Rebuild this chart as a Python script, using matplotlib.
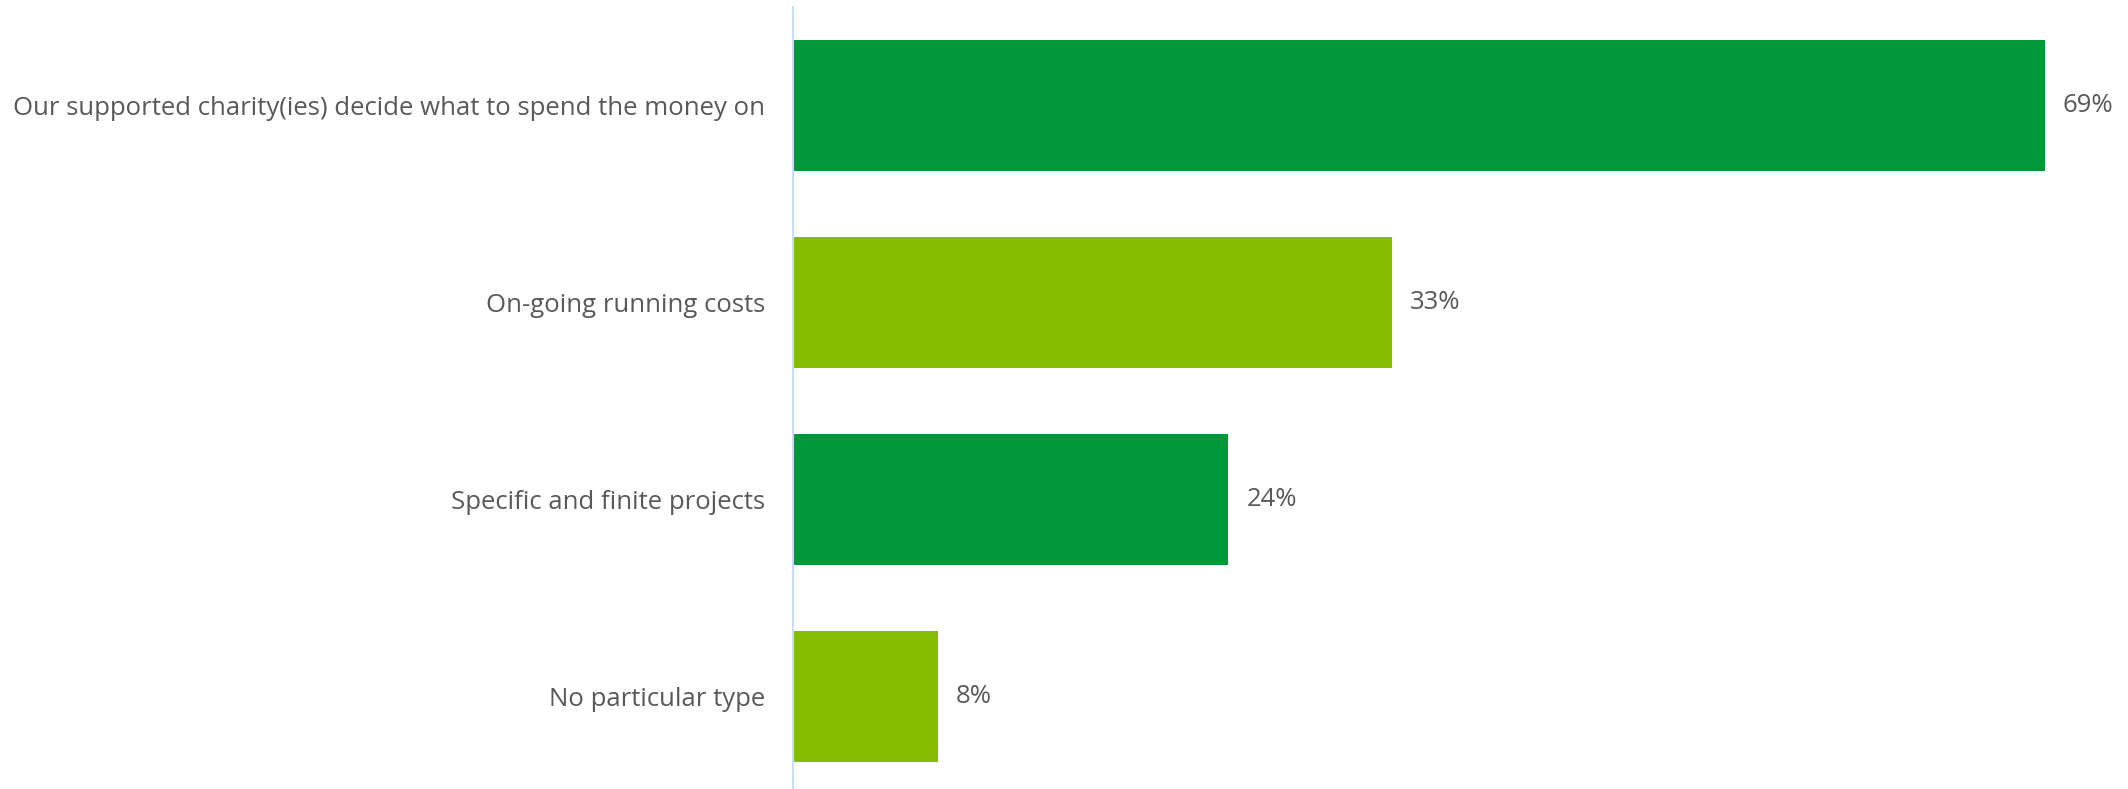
import matplotlib
matplotlib.use('Agg')
import matplotlib.pyplot as plt

categories = ['Our supported charity(ies) decide what to spend the money on',
              'On-going running costs',
              'Specific and finite projects',
              'No particular type']
values = [69, 33, 24, 8]
colors = ['#00963A', '#86BC00', '#00963A', '#86BC00']

TEXT = '#595959'
plt.rcParams['font.family'] = ['Open Sans', 'DejaVu Sans']

fig = plt.figure(figsize=(21.28, 7.89), dpi=100)
ax = fig.add_axes([793 / 2128, 0.0, 1 - 793 / 2128, 1 - 7 / 789])

ypos = range(len(categories))
ax.barh(ypos, values, height=0.665, color=colors)
for y, v in zip(ypos, values):
    ax.text(v + 1.0, y, f'{v}%', va='center', ha='left',
            fontsize=18.5, color=TEXT)

ax.set_xlim(0, 73.6)
ax.set_ylim(3.467, -0.5)
ax.set_yticks(list(ypos))
ax.set_yticklabels(categories, fontsize=18.5, color=TEXT)
ax.tick_params(axis='y', length=0, pad=20)
ax.set_xticks([])
for s in ['top', 'right', 'bottom']:
    ax.spines[s].set_visible(False)
ax.spines['left'].set_color('#C9DDF5')
ax.spines['left'].set_linewidth(1.5)

fig.savefig('out.png', dpi=100)
